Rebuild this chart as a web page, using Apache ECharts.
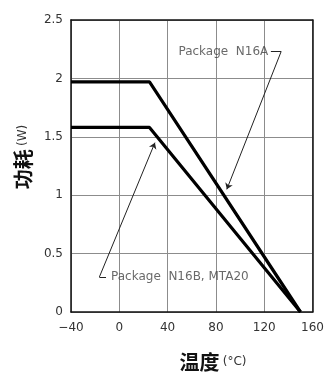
<!DOCTYPE html>
<html>
<head>
<meta charset="utf-8">
<script src="https://cdn.jsdelivr.net/npm/echarts@6/dist/echarts.min.js"></script>
<style>
  html, body { margin: 0; padding: 0; background: #fff; }
  #chart { width: 327px; height: 376px; }
</style>
</head>
<body>
<div id="chart"></div>
<script>
// Power derating curves: dissipation (W) vs. ambient temperature (°C)
const tempPoints = [-40, 25, 150];
const powerN16A = [1.97, 1.97, 0];
const powerN16B = [1.58, 1.58, 0];

const xTicks = [-40, 0, 40, 80, 120, 160];
const yTicks = [0, 0.5, 1, 1.5, 2, 2.5];

// Callout labels and their leader lines (in data units)
const labelN16A = { text: 'Package  N16A', at: [125, 2.23] };
const leaderN16A = [[125.5, 2.23], [134, 2.23], [89, 1.05]];
const labelN16B = { text: 'Package  N16B, MTA20', at: [-11, 0.3] };
const leaderN16B = [[-11, 0.3], [-16.5, 0.3], [29.5, 1.45]];

const fontTick = '"DejaVu Sans", "Liberation Sans", Arial, sans-serif';
const fontCJK = '"Noto Sans CJK SC", sans-serif';

function toPairs(xs, ys) { return xs.map((x, i) => [x, ys[i]]); }

function leaderMarkLine(pts) {
  const segs = [];
  for (let i = 0; i < pts.length - 1; i++) {
    segs.push([
      { coord: pts[i], symbol: 'none' },
      { coord: pts[i + 1], symbol: i === pts.length - 2 ? 'arrow' : 'none' }
    ]);
  }
  return {
    silent: true,
    symbolSize: 6,
    label: { show: false },
    lineStyle: { color: '#222', width: 1, type: 'solid' },
    data: segs
  };
}

const frameAxis = {
  show: true,
  axisLine: { show: true, onZero: false, lineStyle: { color: '#111', width: 1.5 } },
  axisTick: { show: false },
  axisLabel: { show: false },
  splitLine: { show: false }
};

const chart = echarts.init(document.getElementById('chart'));
chart.setOption({
  animation: false,
  backgroundColor: '#fff',
  grid: { left: 71, right: 9, top: 20, bottom: 64 },
  xAxis: [
    {
      type: 'value', min: -40, max: 160, interval: 40,
      axisLine: { show: true, onZero: false, lineStyle: { color: '#111', width: 1.5 } },
      axisTick: { show: false },
      splitLine: { show: true, lineStyle: { color: '#8c8c8c', width: 1 } },
      axisLabel: {
        margin: 10, color: '#333', fontSize: 12, fontFamily: fontTick,
        formatter: v => xTicks.includes(v) ? (v < 0 ? '\u2212' + Math.abs(v) : String(v)) : ''
      }
    },
    Object.assign({ type: 'value', position: 'top', min: -40, max: 160 }, frameAxis)
  ],
  yAxis: [
    {
      type: 'value', min: 0, max: 2.5, interval: 0.5,
      axisLine: { show: true, onZero: false, lineStyle: { color: '#111', width: 1.5 } },
      axisTick: { show: false },
      splitLine: { show: true, lineStyle: { color: '#8c8c8c', width: 1 } },
      axisLabel: {
        margin: 8, color: '#333', fontSize: 12, fontFamily: fontTick,
        formatter: v => yTicks.includes(v) ? String(v) : ''
      }
    },
    Object.assign({ type: 'value', position: 'right', min: 0, max: 2.5 }, frameAxis)
  ],
  graphic: [
    {
      type: 'text', x: 23, y: 157, rotation: Math.PI / 2,
      style: {
        text: '{cn|功耗} {u|(W)}', align: 'center', verticalAlign: 'middle',
        rich: {
          cn: { fontSize: 20, fontWeight: 'bold', fill: '#111', fontFamily: fontCJK },
          u: { fontSize: 12, fill: '#333', fontFamily: fontTick }
        }
      }
    },
    {
      type: 'text', x: 213, y: 362,
      style: {
        text: '{cn|温度} {u|(°C)}', align: 'center', verticalAlign: 'middle',
        rich: {
          cn: { fontSize: 20, fontWeight: 'bold', fill: '#111', fontFamily: fontCJK },
          u: { fontSize: 12, fill: '#333', fontFamily: fontTick }
        }
      }
    }
  ],
  series: [
    {
      type: 'line', data: toPairs(tempPoints, powerN16A), symbol: 'none',
      lineStyle: { color: '#000', width: 3.2 }, z: 5,
      markLine: leaderMarkLine(leaderN16A)
    },
    {
      type: 'line', data: toPairs(tempPoints, powerN16B), symbol: 'none',
      lineStyle: { color: '#000', width: 3.2 }, z: 5,
      markLine: leaderMarkLine(leaderN16B)
    },
    {
      type: 'scatter', symbolSize: 0, silent: true,
      data: [labelN16A.at],
      label: {
        show: true, position: 'left', distance: 2, formatter: labelN16A.text,
        color: '#444', fontSize: 12, fontFamily: fontTick
      }
    },
    {
      type: 'scatter', symbolSize: 0, silent: true,
      data: [labelN16B.at],
      label: {
        show: true, position: 'right', distance: 5, formatter: labelN16B.text,
        color: '#444', fontSize: 12, fontFamily: fontTick
      }
    }
  ]
});
</script>
</body>
</html>
